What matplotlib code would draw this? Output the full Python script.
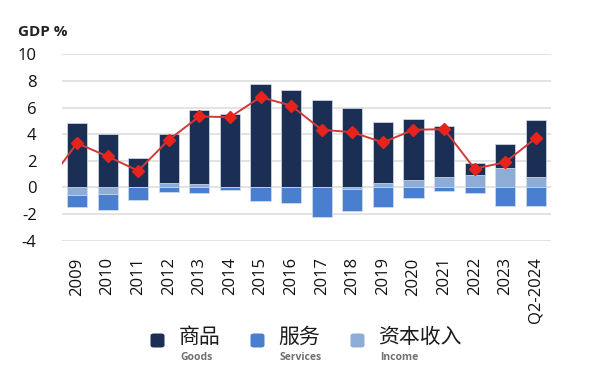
import matplotlib
matplotlib.use("Agg")
import matplotlib.pyplot as plt
from matplotlib.patches import FancyBboxPatch
import numpy as np

plt.rcParams['font.family'] = ['Open Sans', 'Noto Sans CJK SC', 'DejaVu Sans']
plt.rcParams['axes.unicode_minus'] = False

categories = ['2009', '2010', '2011', '2012', '2013', '2014', '2015', '2016',
              '2017', '2018', '2019', '2020', '2021', '2022', '2023', 'Q2-2024']
goods = [4.83, 4.0, 2.18, 3.63, 5.53, 5.53, 7.75, 7.33,
         6.58, 5.98, 4.51, 4.60, 3.88, 0.88, 1.85, 4.28]
services = [-0.9, -1.17, -0.92, -0.37, -0.42, -0.22, -1.0, -1.15,
            -2.22, -1.65, -1.5, -0.83, -0.25, -0.4, -1.37, -1.37]
income = [-0.6, -0.5, 0.0, 0.37, 0.25, 0.0, 0.0, 0.0,
          0.0, -0.1, 0.37, 0.55, 0.75, 0.95, 1.45, 0.75]
current_account = [3.33, 2.33, 1.25, 3.58, 5.33, 5.28, 6.78, 6.15,
                   4.33, 4.15, 3.38, 4.33, 4.38, 1.4, 1.9, 3.7]
prior_value = 0.2  # 2008 value, only the incoming segment is visible

legend_cn = ['商品', '服务', '资本收入']
legend_en = ['Goods', 'Services', 'Income']

c_goods = '#1b2f55'
c_serv = '#4a7fcf'
c_inc = '#8dadd6'
c_line = '#d23a38'
c_mark = '#e8231c'

fig = plt.figure(figsize=(5.9, 3.73), dpi=100)
ax = fig.add_axes([0.1046, 0.3547, 0.8295, 0.4997])

x = np.arange(len(categories))
g = np.array(goods)
s = np.array(services)
inc = np.array(income)
inc_pos = np.clip(inc, 0, None)
inc_neg = np.clip(inc, None, 0)

w = 0.66
ec = '#d5deec'
lw = 0.5
ax.bar(x, inc_pos, width=w, color=c_inc, edgecolor=ec, linewidth=lw, zorder=3)
ax.bar(x, inc_neg, width=w, color=c_inc, edgecolor=ec, linewidth=lw, zorder=3)
ax.bar(x, g, bottom=inc_pos, width=w, color=c_goods, edgecolor=ec, linewidth=lw, zorder=3)
ax.bar(x, s, bottom=inc_neg, width=w, color=c_serv, edgecolor=ec, linewidth=lw, zorder=3)

lx = np.concatenate([[-1], x])
ly = np.concatenate([[prior_value], current_account])
ax.plot(lx, ly, color=c_line, linewidth=1.4, zorder=4)
ax.plot(x, current_account, linestyle='none', marker='D', markersize=5.8,
        color=c_mark, markeredgecolor=c_mark, zorder=5)

ax.set_xlim(-0.5, 15.5)
ax.set_ylim(-4, 10)
ax.set_yticks(np.arange(-4, 11, 2))
ax.yaxis.grid(True, color='#e0e0e0', linewidth=1.3, zorder=0)
ax.set_axisbelow(True)
for sp in ax.spines.values():
    sp.set_visible(False)
ax.tick_params(axis='both', length=0, labelsize=12, colors='#111111')
ax.tick_params(axis='y', pad=18)
ax.tick_params(axis='x', pad=12)
ax.set_xticks(x)
ax.set_xticklabels(categories, rotation=90)

fig.text(18 / 590, 1 - 36 / 373, 'GDP %', fontsize=11, fontweight='bold',
         color='#222222', ha='left', va='baseline')

W, H = 590, 373
colors = [c_goods, c_serv, c_inc]
for i in range(3):
    cx = 157.5 + 100 * i
    cy = 340.5
    size = 14
    patch = FancyBboxPatch(((cx - size / 2) / W, 1 - (cy + size / 2) / H),
                           size / W, size / H,
                           boxstyle='round,pad=0,rounding_size=0.006',
                           transform=fig.transFigure, facecolor=colors[i],
                           edgecolor='none')
    fig.add_artist(patch)
    fig.text((cx + 21) / W, 1 - 337 / H, legend_cn[i], fontsize=15,
             family=['Noto Sans CJK SC', 'DejaVu Sans'], color='#1a1a1a',
             ha='left', va='center')
    fig.text((cx + 22.5) / W, 1 - 357 / H, legend_en[i], fontsize=7.5,
             color='#707070', fontweight='bold', ha='left', va='center')

fig.savefig('out.png', dpi=100)
